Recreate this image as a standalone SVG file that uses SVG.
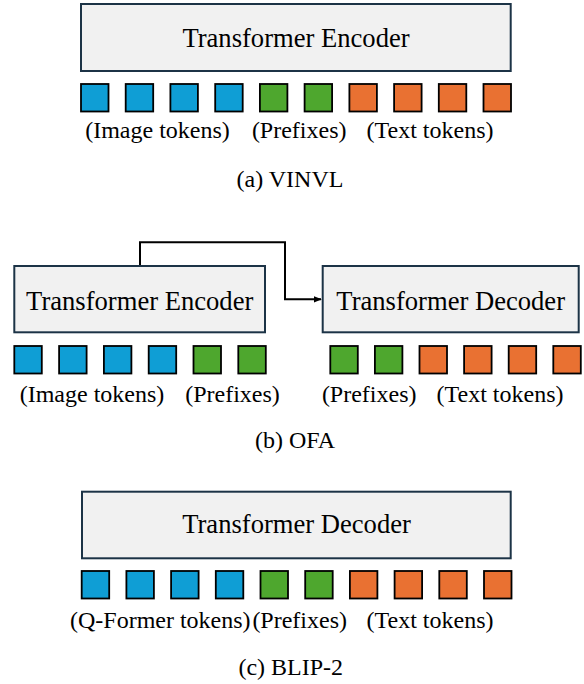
<svg xmlns="http://www.w3.org/2000/svg" width="584" height="684" viewBox="0 0 584 684">
  <style>
    .box { fill: #f1f1f1; stroke: #1c3346; stroke-width: 2; }
    .title { font-family: 'Liberation Serif', 'DejaVu Serif', serif; font-size: 26.6px; fill: #000; text-anchor: middle; }
    .lbl { font-family: 'Liberation Serif', 'DejaVu Serif', serif; font-size: 24px; fill: #000; text-anchor: middle; }
    .tok { stroke: #000; stroke-width: 1.8; }
    .img { fill: #0f9ed5; }
    .pre { fill: #4ea72e; }
    .txt { fill: #e97132; }
    .conn { fill: none; stroke: #000; stroke-width: 2; }
  </style>
  <defs>
    <marker id="arr" viewBox="0 0 10 10" refX="9" refY="5" markerWidth="4" markerHeight="4" orient="auto" markerUnits="strokeWidth">
      <path d="M0,1 L10,5 L0,9 z" fill="#000"/>
    </marker>
  </defs>
  <rect width="584" height="684" fill="#fff"/>

  <!-- (a) VINVL -->
  <g id="a-encoder">
    <rect class="box" x="81" y="4" width="429.7" height="67"/>
    <text class="title" x="296" y="47">Transformer Encoder</text>
  </g>
  <g id="a-tokens">
    <rect class="tok img" x="81" y="84" width="27.5" height="27.5"/>
    <rect class="tok img" x="125.7" y="84" width="27.5" height="27.5"/>
    <rect class="tok img" x="170.4" y="84" width="27.5" height="27.5"/>
    <rect class="tok img" x="215.2" y="84" width="27.5" height="27.5"/>
    <rect class="tok pre" x="259.9" y="84" width="27.5" height="27.5"/>
    <rect class="tok pre" x="304.6" y="84" width="27.5" height="27.5"/>
    <rect class="tok txt" x="349.4" y="84" width="27.5" height="27.5"/>
    <rect class="tok txt" x="394.1" y="84" width="27.5" height="27.5"/>
    <rect class="tok txt" x="438.8" y="84" width="27.5" height="27.5"/>
    <rect class="tok txt" x="483.5" y="84" width="27.5" height="27.5"/>
  </g>
  <g id="a-labels">
    <text class="lbl" x="157.5" y="138">(Image tokens)</text>
    <text class="lbl" x="299.2" y="138">(Prefixes)</text>
    <text class="lbl" x="430" y="138">(Text tokens)</text>
    <text class="lbl" x="290" y="186.7">(a) VINVL</text>
  </g>

  <!-- (b) OFA -->
  <g id="b-encoder">
    <rect class="box" x="14.3" y="266" width="250.7" height="66.3"/>
    <text class="title" x="139.7" y="310">Transformer Encoder</text>
  </g>
  <g id="b-decoder">
    <rect class="box" x="322.7" y="266" width="256" height="66.3"/>
    <text class="title" x="450.7" y="310">Transformer Decoder</text>
  </g>
  <g id="connectors">
    <path class="conn" marker-end="url(#arr)" d="M140,265 V242.3 H285 V299.3 H321"/>
  </g>
  <g id="b-enc-tokens">
    <rect class="tok img" x="14.3" y="346" width="27.5" height="27.5"/>
    <rect class="tok img" x="59.1" y="346" width="27.5" height="27.5"/>
    <rect class="tok img" x="103.9" y="346" width="27.5" height="27.5"/>
    <rect class="tok img" x="148.7" y="346" width="27.5" height="27.5"/>
    <rect class="tok pre" x="193.5" y="346" width="27.5" height="27.5"/>
    <rect class="tok pre" x="238.3" y="346" width="27.5" height="27.5"/>
  </g>
  <g id="b-dec-tokens">
    <rect class="tok pre" x="330.3" y="346" width="27.5" height="27.5"/>
    <rect class="tok pre" x="374.9" y="346" width="27.5" height="27.5"/>
    <rect class="tok txt" x="419.5" y="346" width="27.5" height="27.5"/>
    <rect class="tok txt" x="464.1" y="346" width="27.5" height="27.5"/>
    <rect class="tok txt" x="508.7" y="346" width="27.5" height="27.5"/>
    <rect class="tok txt" x="553.3" y="346" width="27.5" height="27.5"/>
  </g>
  <g id="b-labels">
    <text class="lbl" x="92" y="401.7">(Image tokens)</text>
    <text class="lbl" x="232.5" y="401.7">(Prefixes)</text>
    <text class="lbl" x="369.2" y="401.7">(Prefixes)</text>
    <text class="lbl" x="500" y="401.7">(Text tokens)</text>
    <text class="lbl" x="295" y="448">(b) OFA</text>
  </g>

  <!-- (c) BLIP-2 -->
  <g id="c-decoder">
    <rect class="box" x="82" y="491.7" width="428.7" height="66.6"/>
    <text class="title" x="296.5" y="533.3">Transformer Decoder</text>
  </g>
  <g id="c-tokens">
    <rect class="tok img" x="81.7" y="571" width="27.5" height="27.5"/>
    <rect class="tok img" x="126.4" y="571" width="27.5" height="27.5"/>
    <rect class="tok img" x="171.1" y="571" width="27.5" height="27.5"/>
    <rect class="tok img" x="215.8" y="571" width="27.5" height="27.5"/>
    <rect class="tok pre" x="260.5" y="571" width="27.5" height="27.5"/>
    <rect class="tok pre" x="305.2" y="571" width="27.5" height="27.5"/>
    <rect class="tok txt" x="349.9" y="571" width="27.5" height="27.5"/>
    <rect class="tok txt" x="394.6" y="571" width="27.5" height="27.5"/>
    <rect class="tok txt" x="439.3" y="571" width="27.5" height="27.5"/>
    <rect class="tok txt" x="484" y="571" width="27.5" height="27.5"/>
  </g>
  <g id="c-labels">
    <text class="lbl" x="160.3" y="628.3">(Q-Former tokens)</text>
    <text class="lbl" x="299.7" y="628.3">(Prefixes)</text>
    <text class="lbl" x="430" y="628.3">(Text tokens)</text>
    <text class="lbl" x="290.8" y="675">(c) BLIP-2</text>
  </g>
</svg>
